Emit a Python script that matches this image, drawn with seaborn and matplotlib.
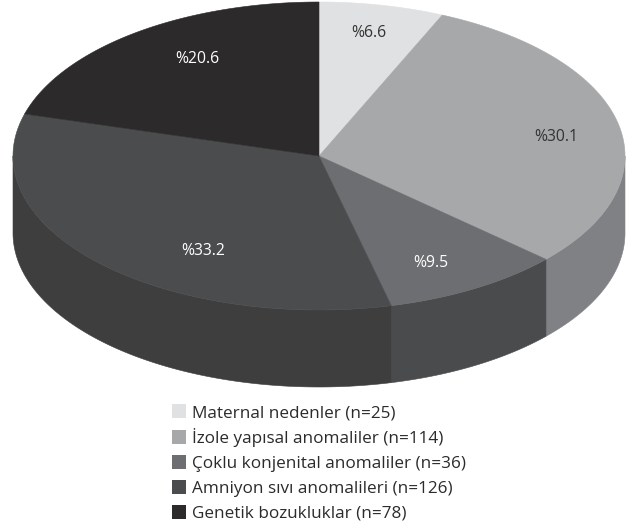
import numpy as np
import matplotlib
matplotlib.use("Agg")
import matplotlib.pyplot as plt
from matplotlib.patches import Rectangle
import seaborn as sns

sns.set_theme(style="white")
plt.rcParams["font.family"] = ["Open Sans", "DejaVu Sans"]

categories = ["Maternal nedenler (n=25)", "İzole yapısal anomaliler (n=114)",
              "Çoklu konjenital anomaliler (n=36)", "Amniyon sıvı anomalileri (n=126)",
              "Genetik bozukluklar (n=78)"]
shares = [6.6, 30.1, 9.5, 33.2, 20.6]
labels = ["%6.6", "%30.1", "%9.5", "%33.2", "%20.6"]
top_colors = sns.color_palette(["#e0e1e2", "#a7a8aa", "#6d6e71", "#4b4c4e", "#2d2a2b"])
wall_colors = ["#c0c0c0", "#808184", "#4a4b4d", "#3e3e3e", "#2d2a2b"]
label_colors = ["#333333", "#333333", "#ffffff", "#ffffff", "#ffffff"]

W, H = 627, 529
fig = plt.figure(figsize=(W / 100, H / 100), dpi=100)
ax = fig.add_axes([0, 0, 1, 1])

cx, cy, rx, ry, depth = 319, 156, 306, 154, 77
edges = np.cumsum([0] + shares) / sum(shares) * 2 * np.pi

# front wall: only the part of each slice on the lower half of the ellipse shows
for a0, a1, c in zip(edges[:-1], edges[1:], wall_colors):
    lo, hi = max(a0, np.pi / 2), min(a1, 3 * np.pi / 2)
    if hi <= lo:
        continue
    t = np.linspace(lo, hi, 200)
    x = cx + rx * np.sin(t)
    y = cy - ry * np.cos(t)
    ax.fill(np.r_[x, x[::-1]], np.r_[y, y[::-1] + depth], color=c, lw=0.4)

# top face
for a0, a1, c in zip(edges[:-1], edges[1:], top_colors):
    t = np.linspace(a0, a1, 300)
    ax.fill(np.r_[cx, cx + rx * np.sin(t)], np.r_[cy, cy - ry * np.cos(t)],
            color=c, lw=0.4)

label_pos = [(369, 37), (556, 141), (431, 267), (203, 255), (197, 63)]
for (x, y), lab, lc in zip(label_pos, labels, label_colors):
    ax.text(x, y, lab, ha="center", va="baseline", fontsize=11.3, color=lc)

# legend rows
legend_y = [411, 437, 462, 487, 512]
for y, name, c in zip(legend_y, categories, top_colors):
    ax.add_patch(Rectangle((172, y - 7), 14, 14, facecolor=c, edgecolor="none"))
    ax.text(192, y + 6, name, ha="left", va="baseline", fontsize=12.3, color="#2b2b2b")

ax.set_xlim(0, W)
ax.set_ylim(H, 0)
ax.set_aspect("auto")
ax.axis("off")
fig.savefig("out.png", dpi=100, facecolor="white")
